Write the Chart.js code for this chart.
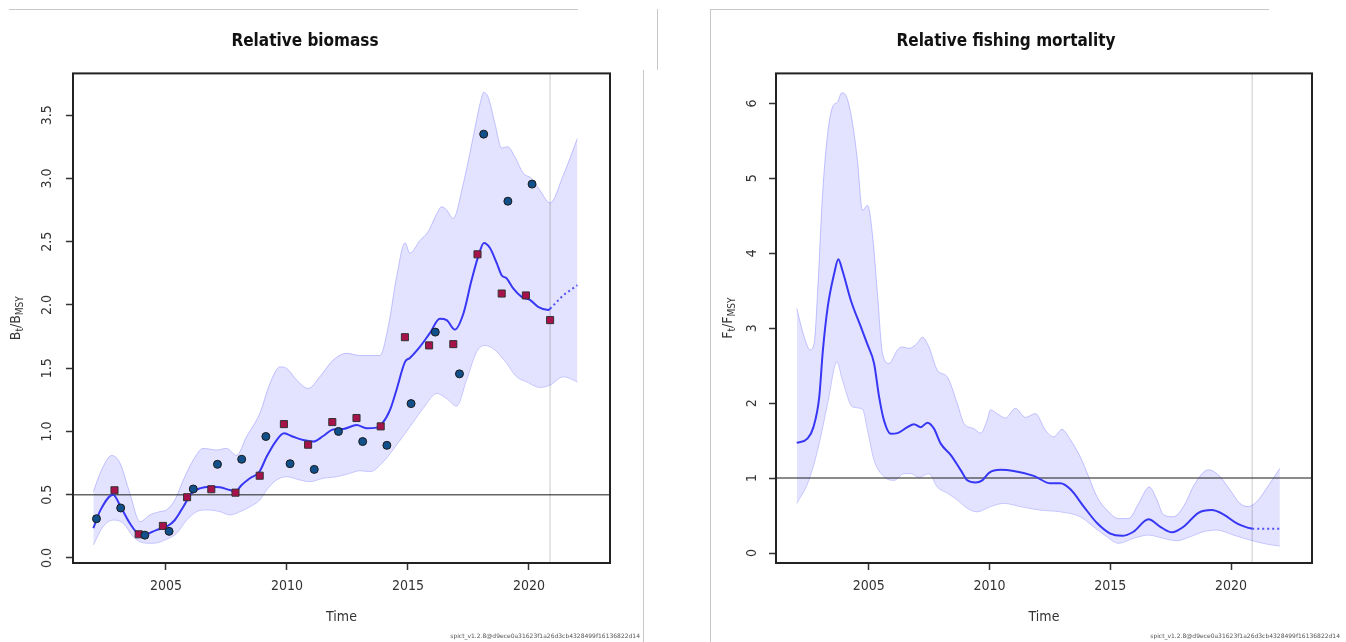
<!DOCTYPE html>
<html>
<head>
<meta charset="utf-8">
<script src="https://cdn.jsdelivr.net/npm/chart.js@4.4.1/dist/chart.umd.min.js"></script>
<style>
  body { margin: 0; background: #fff; width: 1346px; height: 642px; position: relative; overflow: hidden; }
  canvas { position: absolute; top: 0; }
  .edge { position: absolute; background: #c8c8c8; }
  .stamp { position: absolute; top: 632px; font: 6px "DejaVu Sans", sans-serif; color: #555; white-space: nowrap; }
</style>
</head>
<body>
<div class="edge" style="left:9px;top:9px;width:569px;height:1px"></div>
<div class="edge" style="left:657px;top:9px;width:1px;height:61px"></div>
<div class="edge" style="left:643px;top:70px;width:1px;height:572px"></div>
<div class="edge" style="left:710px;top:9px;width:559px;height:1px"></div>
<div class="edge" style="left:710px;top:9px;width:1px;height:633px"></div>
<canvas id="bio" width="655" height="642" style="left:0"></canvas>
<canvas id="fish" width="646" height="642" style="left:700px"></canvas>
<div class="stamp" style="right:706px">spict_v1.2.8@d9ece0a31623f1a26d3cb4328499f16136822d14</div>
<div class="stamp" style="right:6px">spict_v1.2.8@d9ece0a31623f1a26d3cb4328499f16136822d14</div>
<script>
// axes
var xTicks = [2005, 2010, 2015, 2020];
var bioYTicks = [0, 0.5, 1, 1.5, 2, 2.5, 3, 3.5];
var fishYTicks = [0, 1, 2, 3, 4, 5, 6];
var lastObs = 2020.875;

// relative biomass B/Bmsy
var bioYears = [2002.0, 2002.3, 2002.82, 2003.13, 2003.51, 2003.86, 2004.2, 2004.6, 2005.03, 2005.37, 2005.72, 2006.06, 2006.4, 2006.82, 2007.23, 2007.64, 2007.88, 2008.13, 2008.47, 2008.86, 2009.16, 2009.57, 2009.88, 2010.26, 2010.67, 2011.09, 2011.5, 2011.91, 2012.33, 2012.88, 2013.29, 2013.71, 2013.91, 2014.26, 2014.53, 2014.88, 2015.08, 2015.5, 2015.9, 2016.32, 2016.6, 2016.94, 2017.29, 2017.63, 2017.9, 2018.14, 2018.39, 2018.67, 2018.87, 2019.08, 2019.35, 2019.7, 2020.04, 2020.38, 2020.8, 2020.875];
var bioEst = [0.235, 0.38, 0.50, 0.405, 0.274, 0.195, 0.19, 0.22, 0.247, 0.30, 0.405, 0.51, 0.55, 0.563, 0.558, 0.537, 0.527, 0.577, 0.63, 0.68, 0.80, 0.93, 0.985, 0.958, 0.932, 0.92, 0.964, 1.016, 1.02, 1.05, 1.025, 1.03, 1.055, 1.17, 1.33, 1.55, 1.58, 1.67, 1.775, 1.89, 1.88, 1.805, 1.93, 2.196, 2.38, 2.49, 2.45, 2.33, 2.235, 2.21, 2.13, 2.064, 2.04, 1.985, 1.96, 1.97];
var bioPredYears = [2020.875, 2021.42, 2022.0];
var bioPred = [1.97, 2.077, 2.156];
var bioUpYears = [2002.0, 2002.34, 2002.76, 2003.1, 2003.51, 2003.93, 2004.34, 2004.75, 2005.03, 2005.37, 2005.72, 2006.13, 2006.54, 2007.1, 2007.5, 2007.92, 2008.33, 2008.88, 2009.3, 2009.71, 2009.99, 2010.4, 2010.88, 2011.36, 2011.91, 2012.47, 2013.02, 2013.84, 2014.19, 2014.53, 2014.88, 2015.08, 2015.5, 2015.84, 2016.19, 2016.39, 2016.6, 2016.87, 2017.29, 2017.7, 2017.98, 2018.14, 2018.32, 2018.6, 2018.87, 2019.12, 2019.42, 2019.77, 2020.11, 2020.45, 2020.87, 2021.42, 2022.0];
var bioUp = [0.524, 0.695, 0.81, 0.75, 0.51, 0.287, 0.34, 0.366, 0.38, 0.458, 0.616, 0.774, 0.866, 0.853, 0.866, 0.81, 0.958, 1.143, 1.38, 1.51, 1.498, 1.406, 1.34, 1.432, 1.564, 1.617, 1.60, 1.60, 1.83, 2.22, 2.49, 2.41, 2.51, 2.58, 2.72, 2.775, 2.75, 2.683, 2.96, 3.33, 3.59, 3.68, 3.64, 3.43, 3.24, 3.25, 3.17, 3.04, 3.0, 2.907, 2.806, 3.025, 3.315];
var bioLoYears = [2002.0, 2002.4, 2002.82, 2003.24, 2003.65, 2004.06, 2004.48, 2005.03, 2005.44, 2005.86, 2006.27, 2006.68, 2007.23, 2007.64, 2008.06, 2008.47, 2008.88, 2009.16, 2009.57, 2009.99, 2010.54, 2010.95, 2011.5, 2012.05, 2012.6, 2013.02, 2013.43, 2013.98, 2014.53, 2015.08, 2015.63, 2016.19, 2016.6, 2017.01, 2017.42, 2017.84, 2018.18, 2018.6, 2019.08, 2019.49, 2019.9, 2020.45, 2020.87, 2021.42, 2022.0];
var bioLo = [0.103, 0.247, 0.30, 0.274, 0.168, 0.12, 0.116, 0.148, 0.195, 0.30, 0.366, 0.38, 0.366, 0.34, 0.366, 0.405, 0.458, 0.537, 0.616, 0.642, 0.616, 0.603, 0.63, 0.642, 0.669, 0.69, 0.682, 0.76, 0.893, 1.037, 1.182, 1.30, 1.26, 1.20, 1.406, 1.63, 1.68, 1.643, 1.538, 1.432, 1.393, 1.348, 1.366, 1.432, 1.393];
// index observations (two surveys)
var idx1Years = [2002.13, 2003.13, 2004.13, 2005.13, 2006.13, 2007.13, 2008.13, 2009.13, 2010.13, 2011.13, 2012.13, 2013.13, 2014.13, 2015.13, 2016.13, 2017.13, 2018.13, 2019.13, 2020.13];
var idx1 = [0.31, 0.395, 0.18, 0.21, 0.545, 0.74, 0.78, 0.96, 0.745, 0.70, 1.0, 0.92, 0.89, 1.22, 1.785, 1.455, 3.35, 2.82, 2.955];
var idx2Years = [2002.875, 2003.875, 2004.875, 2005.875, 2006.875, 2007.875, 2008.875, 2009.875, 2010.875, 2011.875, 2012.875, 2013.875, 2014.875, 2015.875, 2016.875, 2017.875, 2018.875, 2019.875, 2020.875];
var idx2 = [0.535, 0.187, 0.253, 0.48, 0.543, 0.516, 0.65, 1.058, 0.895, 1.074, 1.106, 1.04, 1.745, 1.68, 1.69, 2.40, 2.09, 2.075, 1.88];

// relative fishing mortality F/Fmsy
var fishYears = [2002.02, 2002.47, 2002.71, 2002.95, 2003.1, 2003.3, 2003.57, 2003.74, 2003.91, 2004.26, 2004.67, 2004.95, 2005.22, 2005.43, 2005.63, 2005.91, 2006.19, 2006.6, 2006.87, 2007.15, 2007.43, 2007.7, 2007.98, 2008.39, 2008.8, 2009.08, 2009.42, 2009.7, 2009.98, 2010.45, 2011.0, 2011.83, 2012.52, 2012.93, 2013.35, 2013.9, 2014.45, 2015.0, 2015.48, 2015.96, 2016.58, 2017.07, 2017.55, 2018.03, 2018.65, 2019.2, 2019.68, 2020.24, 2020.65, 2020.875];
var fishEst = [1.47, 1.53, 1.68, 2.08, 2.7, 3.28, 3.73, 3.92, 3.77, 3.37, 3.02, 2.78, 2.53, 2.08, 1.77, 1.59, 1.60, 1.68, 1.72, 1.68, 1.74, 1.66, 1.46, 1.31, 1.11, 0.97, 0.94, 0.97, 1.07, 1.11, 1.095, 1.03, 0.93, 0.93, 0.85, 0.62, 0.40, 0.26, 0.23, 0.284, 0.45, 0.35, 0.276, 0.35, 0.537, 0.573, 0.516, 0.396, 0.342, 0.324];
var fishPredYears = [2020.875, 2022.02];
var fishPred = [0.324, 0.324];
var fishUpYears = [2002.02, 2002.33, 2002.57, 2002.74, 2002.88, 2003.09, 2003.3, 2003.5, 2003.71, 2003.88, 2004.09, 2004.33, 2004.53, 2004.74, 2004.95, 2005.15, 2005.36, 2005.57, 2005.84, 2006.19, 2006.39, 2006.67, 2007.01, 2007.22, 2007.49, 2007.84, 2008.25, 2008.66, 2008.94, 2009.35, 2009.63, 2009.9, 2010.04, 2010.32, 2010.66, 2011.07, 2011.49, 2011.9, 2012.31, 2012.66, 2013.0, 2013.35, 2013.76, 2014.1, 2014.45, 2014.86, 2015.34, 2015.76, 2016.17, 2016.61, 2016.93, 2017.2, 2017.62, 2018.03, 2018.51, 2019.06, 2019.48, 2019.96, 2020.37, 2020.71, 2021.06, 2021.47, 2022.02];
var fishUp = [3.26, 2.88, 2.71, 2.80, 3.46, 4.80, 5.60, 5.95, 6.02, 6.14, 6.08, 5.73, 5.24, 4.57, 4.64, 4.26, 3.46, 2.66, 2.53, 2.71, 2.75, 2.73, 2.80, 2.88, 2.75, 2.44, 2.35, 2.0, 1.73, 1.66, 1.60, 1.77, 1.91, 1.86, 1.80, 1.93, 1.81, 1.86, 1.64, 1.55, 1.65, 1.51, 1.28, 1.02, 0.75, 0.573, 0.46, 0.46, 0.66, 0.88, 0.71, 0.51, 0.484, 0.62, 0.93, 1.11, 1.04, 0.84, 0.66, 0.62, 0.684, 0.863, 1.13];
var fishLoYears = [2002.02, 2002.47, 2002.88, 2003.3, 2003.68, 2003.91, 2004.33, 2004.74, 2004.95, 2005.22, 2005.63, 2006.05, 2006.46, 2006.74, 2007.08, 2007.49, 2007.84, 2008.25, 2008.66, 2009.08, 2009.49, 2010.04, 2010.59, 2011.28, 2012.1, 2012.93, 2013.76, 2014.31, 2014.86, 2015.34, 2015.96, 2016.58, 2017.2, 2017.75, 2018.3, 2018.85, 2019.41, 2020.1, 2020.79, 2021.47, 2022.02];
var fishLo = [0.663, 0.93, 1.37, 2.0, 2.55, 2.31, 1.95, 1.92, 1.64, 1.24, 1.02, 0.97, 1.06, 1.06, 1.01, 1.06, 0.88, 0.80, 0.71, 0.596, 0.55, 0.62, 0.663, 0.62, 0.573, 0.55, 0.484, 0.35, 0.217, 0.13, 0.196, 0.24, 0.196, 0.164, 0.217, 0.284, 0.307, 0.24, 0.173, 0.12, 0.093];

var xMin = 2001.16, xMax = 2023.35;
var FONT = '"DejaVu Sans Condensed", "DejaVu Sans", sans-serif';
Chart.defaults.font.family = FONT;
Chart.defaults.color = '#333';

function pts(xs, ys) {
    return xs.map(function (x, i) { return { x: x, y: ys[i] }; });
}

// box round the plot, "Time" and the y title with subscripts
function framePlugin(parts, titleX) {
    return {
        id: 'frame',
        afterDraw: function (chart) {
            var ctx = chart.ctx, a = chart.chartArea;
            ctx.save();
            ctx.strokeStyle = '#222';
            ctx.lineWidth = 2;
            ctx.strokeRect(a.left, a.top, a.right - a.left, a.bottom - a.top);
            ctx.fillStyle = '#333';
            ctx.textBaseline = 'middle';
            ctx.textAlign = 'center';
            ctx.font = '14px ' + FONT;
            ctx.fillText('Time', (a.left + a.right) / 2, 617);
            // rotated y title
            ctx.translate(titleX, (a.top + a.bottom) / 2);
            ctx.rotate(-Math.PI / 2);
            ctx.textAlign = 'left';
            var total = 0;
            parts.forEach(function (p) {
                ctx.font = (p[1] ? '10px ' : '14px ') + FONT;
                total += ctx.measureText(p[0]).width;
            });
            var x = -total / 2;
            parts.forEach(function (p) {
                ctx.font = (p[1] ? '10px ' : '14px ') + FONT;
                ctx.fillText(p[0], x, p[1] ? 4 : 0);
                x += ctx.measureText(p[0]).width;
            });
            ctx.restore();
        }
    };
}

function makeChart(id, c) {
    var band = { borderColor: 'rgba(150,150,255,0.55)', borderWidth: 1, pointRadius: 0, cubicInterpolationMode: 'monotone' };
    var datasets = [];
    if (c.obs1) {
        datasets.push({ data: c.obs1, showLine: false, pointStyle: 'circle', pointRadius: 4, pointBackgroundColor: '#12508c', pointBorderColor: '#1a1a1a', pointBorderWidth: 1 });
        datasets.push({ data: c.obs2, showLine: false, pointStyle: 'rect', pointRadius: 5, pointBackgroundColor: '#a8124a', pointBorderColor: '#333', pointBorderWidth: 1 });
    }
    datasets.push({ data: c.est, borderColor: 'rgb(55,55,245)', borderWidth: 2, pointRadius: 0, cubicInterpolationMode: 'monotone' });
    datasets.push({ data: c.pred, borderColor: 'rgb(80,80,245)', borderWidth: 2, borderDash: [2, 3], pointRadius: 0 });
    datasets.push({ data: [{ x: xMin, y: c.ref }, { x: xMax, y: c.ref }], borderColor: 'rgba(50,50,50,0.75)', borderWidth: 1.5, pointRadius: 0 });
    datasets.push({ data: [{ x: lastObs, y: c.yMin }, { x: lastObs, y: c.yMax }], borderColor: 'rgba(0,0,0,0.14)', borderWidth: 1.5, pointRadius: 0 });
    datasets.push(Object.assign({ data: c.up, fill: '+1', backgroundColor: 'rgba(200,200,255,0.5)' }, band));
    datasets.push(Object.assign({ data: c.lo, fill: false }, band));

    return new Chart(document.getElementById(id), {
        type: 'line',
        data: { datasets: datasets },
        options: {
            responsive: false,
            animation: false,
            layout: { padding: { left: 0, right: c.padRight, top: 0, bottom: 0 } },
            plugins: {
                legend: { display: false },
                tooltip: { enabled: false },
                title: { display: true, text: c.title, color: '#111', font: { size: 17, weight: 'bold' }, padding: { top: 31, bottom: 22 } }
            },
            scales: {
                x: {
                    type: 'linear', min: xMin, max: xMax,
                    afterBuildTicks: function (s) { s.ticks = xTicks.map(function (v) { return { value: v }; }); },
                    afterFit: function (s) { s.height = 79; },
                    ticks: { callback: function (v) { return String(v); }, font: { size: 14 }, padding: 8, maxRotation: 0, color: '#333' },
                    grid: { drawOnChartArea: false, drawTicks: true, tickLength: 7, tickColor: '#333', tickWidth: 1.5 },
                    border: { display: false }
                },
                y: {
                    type: 'linear', min: c.yMin, max: c.yMax,
                    afterBuildTicks: function (s) { s.ticks = c.yTicks.map(function (v) { return { value: v }; }); },
                    afterFit: function (s) { s.width = c.axisW; },
                    ticks: { callback: c.fmt, font: { size: 14 }, padding: c.tickPad, minRotation: 90, maxRotation: 90, crossAlign: 'center', color: '#333' },
                    grid: { drawOnChartArea: false, drawTicks: true, tickLength: 7, tickColor: '#333', tickWidth: 1.5 },
                    border: { display: false }
                }
            }
        },
        plugins: [framePlugin(c.yTitle, c.yTitleX)]
    });
}

makeChart('bio', {
    title: 'Relative biomass',
    est: pts(bioYears, bioEst), pred: pts(bioPredYears, bioPred),
    up: pts(bioUpYears, bioUp), lo: pts(bioLoYears, bioLo),
    obs1: pts(idx1Years, idx1), obs2: pts(idx2Years, idx2),
    ref: 0.5, yMin: -0.04, yMax: 3.83, yTicks: bioYTicks,
    fmt: function (v) { return v.toFixed(1); },
    axisW: 73, padRight: 45, tickPad: 9,
    yTitle: [['B', 0], ['t', 1], ['/B', 0], ['MSY', 1]], yTitleX: 16
});

makeChart('fish', {
    title: 'Relative fishing mortality',
    est: pts(fishYears, fishEst), pred: pts(fishPredYears, fishPred),
    up: pts(fishUpYears, fishUp), lo: pts(fishLoYears, fishLo),
    ref: 1, yMin: -0.133, yMax: 6.4, yTicks: fishYTicks,
    fmt: function (v) { return String(v); },
    axisW: 76, padRight: 34, tickPad: 13,
    yTitle: [['F', 0], ['t', 1], ['/F', 0], ['MSY', 1]], yTitleX: 28
});
</script>
</body>
</html>
